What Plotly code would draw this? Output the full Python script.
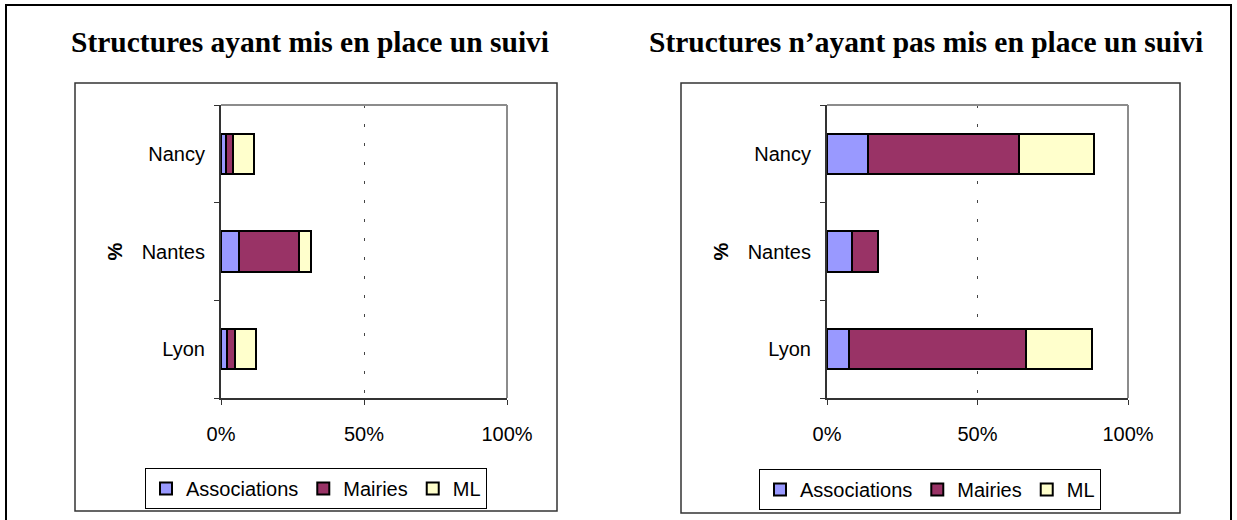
import plotly.graph_objects as go

# Share of structures (%) per city and type
cities = ["Lyon", "Nantes", "Nancy"]
series_names = ["Associations", "Mairies", "ML"]

suivi_assoc = [2.2, 6.3, 1.7]
suivi_mairies = [2.7, 20.9, 2.6]
suivi_ml = [7.3, 4.1, 7.1]

sans_suivi_assoc = [7.4, 8.4, 13.7]
sans_suivi_mairies = [58.6, 8.6, 50.1]
sans_suivi_ml = [22.0, 0.0, 24.9]

x_tick_vals = [0, 50, 100]
x_tick_text = ["0%", "50%", "100%"]

titles = [
    "Structures ayant mis en place un suivi",
    "Structures n\u2019ayant pas mis en place un suivi",
]

COLORS = ["#9999FF", "#993366", "#FFFFCC"]
FONT = "Liberation Sans, Arial, sans-serif"
W, H = 1237, 520


def px_x(v):
    return v / W


def px_y(v):
    return 1 - v / H


fig = go.Figure()

panels = [
    ("x", "y", "legend", [suivi_assoc, suivi_mairies, suivi_ml]),
    ("x2", "y2", "legend2", [sans_suivi_assoc, sans_suivi_mairies, sans_suivi_ml]),
]
for xa, ya, leg, values in panels:
    for name, vals, color in zip(series_names, values, COLORS):
        fig.add_trace(go.Bar(
            x=vals, y=cities, orientation="h", name=name,
            xaxis=xa, yaxis=ya, legend=leg,
            marker=dict(color=color, line=dict(color="black", width=2)),
            width=0.41, hoverinfo="x+y+name",
        ))

xaxis_common = dict(
    range=[0, 100], tickvals=x_tick_vals, ticktext=x_tick_text,
    ticks="outside", ticklen=5, tickcolor="#333", tickwidth=1,
    showline=True, linecolor="#333", linewidth=2,
    showgrid=True, gridcolor="#444", gridwidth=1, griddash="3px,16px",
    zeroline=False, fixedrange=True, automargin=False,
    tickfont=dict(family=FONT, size=20, color="black"),
    ticklabelstandoff=12,
)
yaxis_common = dict(
    range=[-0.5, 2.5], type="category",
    ticks="outside", ticklen=5, tickson="boundaries", tickcolor="#333",
    showline=True, linecolor="#333", linewidth=2,
    showgrid=False, zeroline=False, fixedrange=True, automargin=False,
    tickfont=dict(family=FONT, size=20, color="black"),
    ticklabelstandoff=10,
    title=dict(text="<b>%</b>", font=dict(family=FONT, size=20, color="black"), standoff=14),
)

y_dom = [px_y(398), px_y(105)]
fig.update_layout(
    xaxis=dict(domain=[px_x(221), px_x(507)], anchor="y", **xaxis_common),
    yaxis=dict(domain=y_dom, anchor="x", **yaxis_common),
    xaxis2=dict(domain=[px_x(827), px_x(1128)], anchor="y2", **xaxis_common),
    yaxis2=dict(domain=y_dom, anchor="x2", **yaxis_common),
    barmode="stack",
    width=W, height=H,
    margin=dict(l=0, r=0, t=0, b=0, autoexpand=False),
    paper_bgcolor="white", plot_bgcolor="white",
    showlegend=True,
)

legend_common = dict(
    orientation="h", xanchor="center", yanchor="top",
    bordercolor="black", borderwidth=1, bgcolor="white",
    font=dict(family=FONT, size=20, color="black"),
    traceorder="normal", itemclick=False, itemdoubleclick=False,
)
fig.update_layout(
    legend=dict(x=px_x(316), y=px_y(468), **legend_common),
    legend2=dict(x=px_x(930), y=px_y(469), **legend_common),
)

# plot-area borders (grey top and right edges)
shapes = []
for xa, ya in [("x", "y"), ("x2", "y2")]:
    for x0, y0, x1, y1 in [(0, 1, 1, 1), (1, 0, 1, 1)]:
        shapes.append(dict(
            type="line", xref=f"{xa} domain", yref=f"{ya} domain",
            x0=x0, y0=y0, x1=x1, y1=y1,
            line=dict(color="#8c8c8c", width=2), layer="above",
        ))

# chart-area frames and the outer frame
for x0, x1, y0, y1 in [(75, 557, 83, 511), (681, 1180, 83, 513)]:
    shapes.append(dict(
        type="rect", xref="paper", yref="paper",
        x0=px_x(x0), x1=px_x(x1), y0=px_y(y1), y1=px_y(y0),
        line=dict(color="#333", width=1.5),
    ))
shapes.append(dict(
    type="rect", xref="paper", yref="paper",
    x0=px_x(6), x1=px_x(1231), y0=-0.05, y1=px_y(5),
    line=dict(color="black", width=2),
))
fig.update_layout(shapes=shapes)

for text, cx in zip(titles, [310, 926]):
    fig.add_annotation(
        text=f"<b>{text}</b>", x=px_x(cx), y=px_y(42),
        xref="paper", yref="paper", xanchor="center", yanchor="middle",
        showarrow=False,
        font=dict(family="Liberation Serif, Times New Roman, serif", size=29.5, color="black"),
    )

fig.write_html(
    "out.html",
    config={"displayModeBar": False},
    post_script="document.body.style.margin='0';document.body.style.overflow='hidden';",
)
